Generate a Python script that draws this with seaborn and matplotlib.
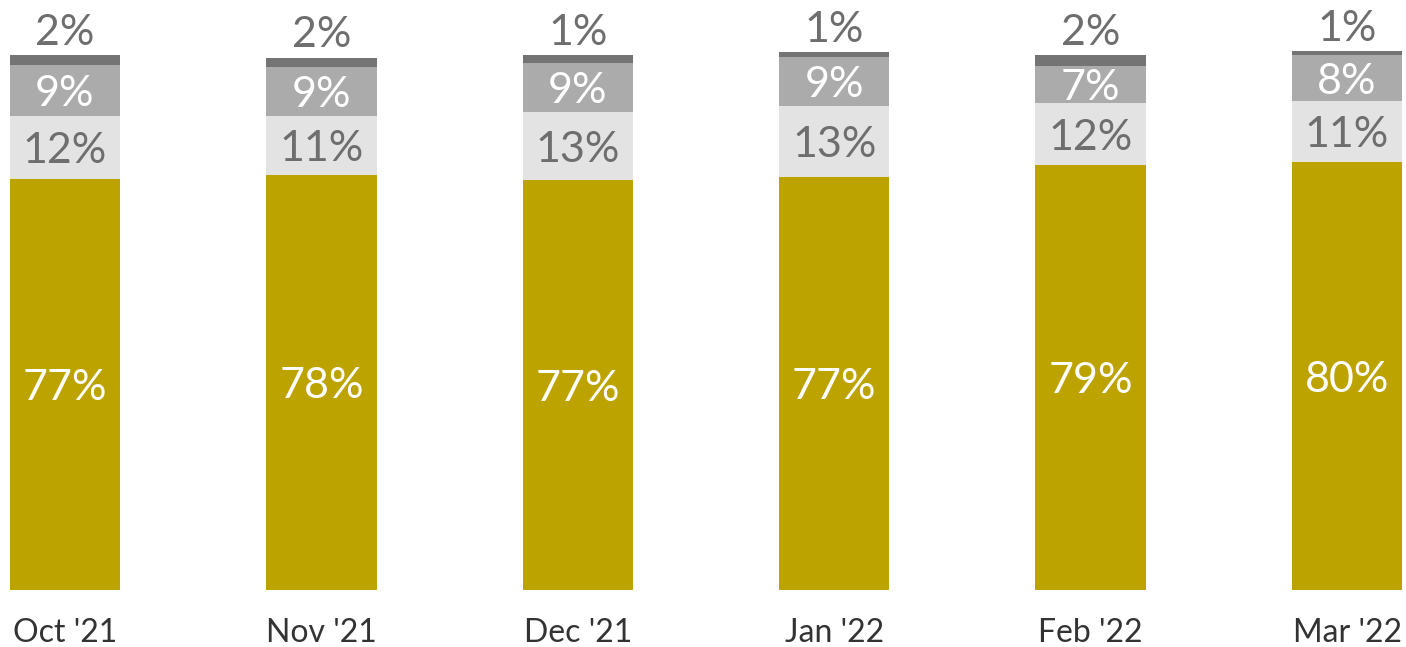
import matplotlib
matplotlib.use("Agg")
import matplotlib.pyplot as plt
import matplotlib.transforms as mtransforms
import seaborn as sns
import pandas as pd
import numpy as np

months = ["Oct '21", "Nov '21", "Dec '21", "Jan '22", "Feb '22", "Mar '22"]
seg_gold = [76.8, 77.6, 76.6, 77.2, 79.4, 80.0]
seg_light = [11.8, 11.0, 12.7, 13.3, 11.6, 11.4]
seg_mid = [9.5, 9.2, 9.2, 9.2, 6.9, 8.6]
seg_dark = [1.9, 1.7, 1.5, 0.9, 2.1, 0.7]
lab_gold = ["77%", "78%", "77%", "77%", "79%", "80%"]
lab_light = ["12%", "11%", "13%", "13%", "12%", "11%"]
lab_mid = ["9%", "9%", "9%", "9%", "7%", "8%"]
lab_dark = ["2%", "2%", "1%", "1%", "2%", "1%"]

sns.set_theme(style="white")
plt.rcParams['font.family'] = ['Lato', 'DejaVu Sans']

W, H = 1406, 647
fig = plt.figure(figsize=(W / 100, H / 100), dpi=100)
ax = fig.add_axes([10 / W, (H - 590) / H, 1392 / W, 590 / H])

df = pd.DataFrame({"month": months, "gold": seg_gold, "light": seg_light,
                   "mid": seg_mid, "dark": seg_dark})

colors = {"gold": "#BDA300", "light": "#E3E3E3", "mid": "#ABABAB", "dark": "#747474"}
bottom = np.zeros(len(months))
bottoms = {}
for seg in ["gold", "light", "mid", "dark"]:
    sns.barplot(data=df, x="month", y=seg, color=colors[seg], saturation=1,
                width=0.43, bottom=bottom, ax=ax, linewidth=0, order=months)
    bottoms[seg] = bottom.copy()
    bottom = bottom + df[seg].values

fs = 31
shift = ax.transData + mtransforms.ScaledTranslation(0, -3.5 / 100, fig.dpi_scale_trans)
for i in range(len(months)):
    ax.text(i, bottoms["gold"][i] + seg_gold[i] / 2, lab_gold[i], ha="center", va="center",
            color="white", fontsize=fs, transform=shift)
    ax.text(i, bottoms["light"][i] + seg_light[i] / 2, lab_light[i], ha="center", va="center",
            color="#6E6E6E", fontsize=fs, transform=shift)
    ax.text(i, bottoms["mid"][i] + seg_mid[i] / 2, lab_mid[i], ha="center", va="center",
            color="white", fontsize=fs, transform=shift)
    ax.text(i, bottom[i] + 4.8, lab_dark[i], ha="center", va="center",
            color="#6E6E6E", fontsize=fs, transform=shift)

ax.set_xlim(-0.2145, 5.2145)
ax.set_ylim(0, 590 / 5.35)
ax.set_xlabel("")
ax.set_ylabel("")
ax.set_yticks([])
ax.tick_params(axis="x", length=0, pad=20, labelsize=23, labelcolor="#333333")
sns.despine(ax=ax, left=True, bottom=True)

fig.savefig("out.png", dpi=100)
